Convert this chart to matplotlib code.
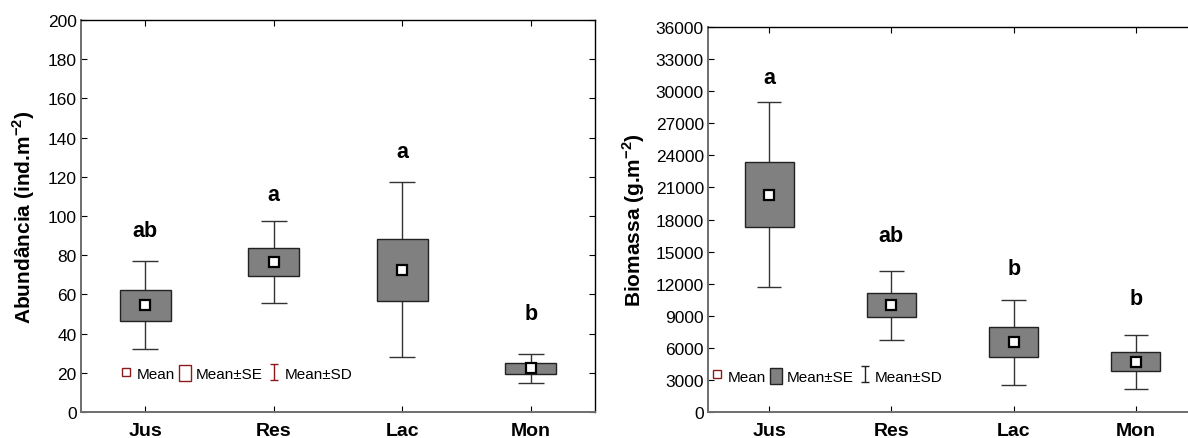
import matplotlib
matplotlib.use("Agg")
import matplotlib.pyplot as plt
import numpy as np
from matplotlib.lines import Line2D
from matplotlib.patches import Patch
from matplotlib.path import Path

plt.rcParams['font.family'] = ['Liberation Sans', 'DejaVu Sans']
plt.rcParams['mathtext.fontset'] = 'custom'
plt.rcParams['mathtext.rm'] = 'Liberation Sans'
plt.rcParams['mathtext.bf'] = 'Liberation Sans:bold'

sites = ['Jus', 'Res', 'Lac', 'Mon']

# abundance (ind.m-2)
abund_mean = [54.7, 76.5, 72.6, 22.3]
abund_se_lo = [46.6, 69.4, 56.8, 19.4]
abund_se_hi = [62.4, 83.8, 88.3, 24.8]
abund_sd_lo = [32.0, 55.8, 27.9, 14.6]
abund_sd_hi = [77.2, 97.3, 117.5, 29.6]
abund_letters = ['ab', 'a', 'a', 'b']
abund_letter_y = [89.6, 108, 130, 47.4]

# biomass (g.m-2)
biom_mean = [20290, 10005, 6518, 4700]
biom_se_lo = [17300, 8883, 5115, 3800]
biom_se_hi = [23380, 11100, 7920, 5580]
biom_sd_lo = [11660, 6760, 2553, 2150]
biom_sd_hi = [28990, 13155, 10473, 7230]
biom_letters = ['a', 'ab', 'b', 'b']
biom_letter_y = [30765, 16020, 12905, 10100]

# I-beam marker for the SD legend entry
ibeam = Path([(-0.5, -1), (0.5, -1), (0, -1), (0, 1), (-0.5, 1), (0.5, 1)],
             [Path.MOVETO, Path.LINETO, Path.MOVETO, Path.LINETO, Path.MOVETO, Path.LINETO])


def boxplot(ax, mean, se_lo, se_hi, sd_lo, sd_hi, letters, letter_y, ymax, step):
    x = np.arange(len(sites))
    se_lo, se_hi = np.array(se_lo), np.array(se_hi)
    ax.vlines(x, sd_lo, sd_hi, color='#333333', lw=1, zorder=1)
    ax.hlines(sd_lo, x - 0.1, x + 0.1, color='#333333', lw=1, zorder=1)
    ax.hlines(sd_hi, x - 0.1, x + 0.1, color='#333333', lw=1, zorder=1)
    ax.bar(x, se_hi - se_lo, bottom=se_lo, width=0.4, color='#808080',
           edgecolor='#222222', lw=1, zorder=2)
    ax.plot(x, mean, 's', ms=7, mfc='white', mec='black', mew=1.6, zorder=3)
    for xi, t, y in zip(x, letters, letter_y):
        ax.text(xi, y, t, ha='center', va='baseline', fontsize=15.5, fontweight='bold')

    ax.set_xlim(-0.5, 3.5)
    ax.set_ylim(0, ymax)
    ax.set_yticks(np.arange(0, ymax + 1, step))
    ax.set_xticks(x)
    ax.set_xticklabels(sites, fontsize=14, fontweight='bold')
    ax.tick_params(axis='y', labelsize=12.5, direction='in', length=4, right=True, pad=3)
    ax.tick_params(axis='x', direction='in', length=4, top=True, pad=7)
    for s in ('left', 'bottom'):
        ax.spines[s].set_color('#6e6e6e')
        ax.spines[s].set_linewidth(1.4)
    for s in ('top', 'right'):
        ax.spines[s].set_color('black')
        ax.spines[s].set_linewidth(1)


fig = plt.figure(figsize=(11.88, 4.39), dpi=100)
ax1 = fig.add_axes([0.0682, 0.0592, 0.4326, 0.893])
ax2 = fig.add_axes([0.596, 0.0592, 0.4116, 0.877])

boxplot(ax1, abund_mean, abund_se_lo, abund_se_hi, abund_sd_lo, abund_sd_hi,
        abund_letters, abund_letter_y, 200, 20)
boxplot(ax2, biom_mean, biom_se_lo, biom_se_hi, biom_sd_lo, biom_sd_hi,
        biom_letters, biom_letter_y, 36000, 3000)

ax1.set_ylabel('Abundância (ind.m$^{\\mathbf{-2}}$)', fontsize=15, fontweight='bold')
ax1.yaxis.set_label_coords(-0.086, 0.5)
ax2.set_ylabel('Biomassa (g.m$^{\\mathbf{-2}}$)', fontsize=15, fontweight='bold')
ax2.yaxis.set_label_coords(-0.124, 0.5)

red = '#8b1a1a'
leg_kw = dict(ncol=3, loc='center left', frameon=False, fontsize=11,
              handlelength=0.8, handleheight=1.25, handletextpad=0.3,
              columnspacing=0.3, borderpad=0, borderaxespad=0)
labels = ['Mean', 'Mean±SE', 'Mean±SD']

h1 = [Line2D([], [], ls='none', marker='s', ms=6, mfc='white', mec=red, mew=1),
      Patch(facecolor='white', edgecolor=red, lw=1),
      Line2D([], [], ls='none', marker=ibeam, ms=12, mec=red, mew=1)]
ax1.legend(h1, labels, bbox_to_anchor=(0.075, 0.0995), **leg_kw)

h2 = [Line2D([], [], ls='none', marker='s', ms=6, mfc='white', mec=red, mew=1),
      Patch(facecolor='#808080', edgecolor='#222222', lw=1),
      Line2D([], [], ls='none', marker=ibeam, ms=12, mec='#222222', mew=1)]
ax2.legend(h2, labels, bbox_to_anchor=(0.005, 0.094), **leg_kw)

fig.savefig('out.png', dpi=100)
